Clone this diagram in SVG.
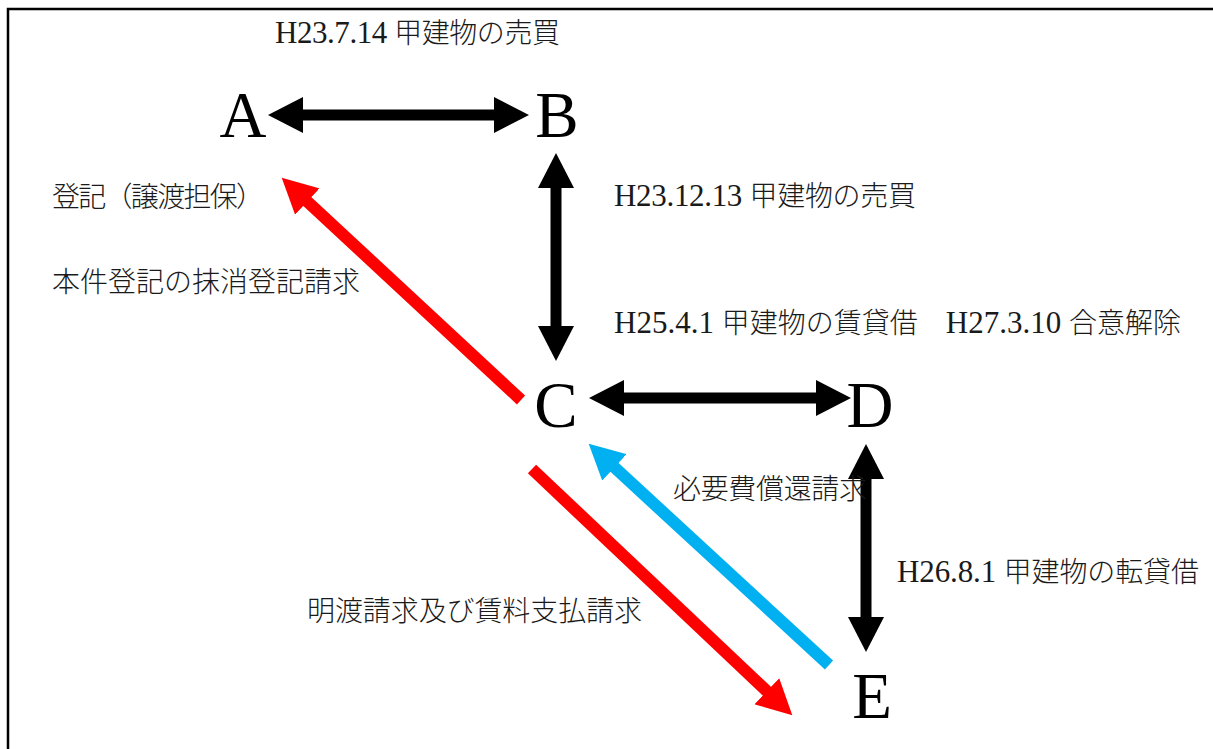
<svg xmlns="http://www.w3.org/2000/svg" width="1213" height="749" viewBox="0 0 1213 749">
<style>
.lbl{font-family:"Liberation Serif","Noto Sans CJK JP",serif;font-size:28px;font-weight:300;fill:#1a1a1a}
.lat{font-size:31px;font-weight:normal}
.node{font-family:"Liberation Serif","Times New Roman",serif;font-size:65px;fill:#000;text-anchor:middle}
.blk{stroke:#000;stroke-width:11;fill:none}
.red{stroke:#ff0000;stroke-width:12;fill:none}
.blu{stroke:#00b0f0;stroke-width:12;fill:none}
</style>
<defs>
<marker id="hb" markerUnits="userSpaceOnUse" viewBox="0 -18 36 36" markerWidth="36" markerHeight="36" refX="1" refY="0" orient="auto-start-reverse"><path d="M0,-18 L35,0 L0,18 z" fill="#000"/></marker>
<marker id="hr" markerUnits="userSpaceOnUse" viewBox="0 -18 36 36" markerWidth="36" markerHeight="36" refX="1" refY="0" orient="auto"><path d="M0,-18 L35,0 L0,18 z" fill="#ff0000"/></marker>
<marker id="hc" markerUnits="userSpaceOnUse" viewBox="0 -18 36 36" markerWidth="36" markerHeight="36" refX="1" refY="0" orient="auto"><path d="M0,-18 L35,0 L0,18 z" fill="#00b0f0"/></marker>
</defs>
<rect width="1213" height="749" fill="#fff"/>
<path d="M8,760 V9 H1220" fill="none" stroke="#000" stroke-width="2.5"/>
<g id="connectors">
<line class="blk" x1="302" y1="115" x2="495" y2="115" marker-start="url(#hb)" marker-end="url(#hb)"/>
<line class="blk" x1="556" y1="187" x2="556" y2="327" marker-start="url(#hb)" marker-end="url(#hb)"/>
<line class="blk" x1="623" y1="398" x2="817" y2="398" marker-start="url(#hb)" marker-end="url(#hb)"/>
<line class="blk" x1="866" y1="478" x2="866" y2="618" marker-start="url(#hb)" marker-end="url(#hb)"/>
<line class="red" x1="521" y1="400" x2="306.6" y2="200.8" marker-end="url(#hr)"/>
<line class="red" x1="532" y1="469" x2="767.6" y2="691.9" marker-end="url(#hr)"/>
<line class="blu" x1="829" y1="665" x2="613.7" y2="466.7" marker-end="url(#hc)"/>
</g>
<g id="node-A"><text class="node" x="243" y="137">A</text></g>
<g id="node-B"><text class="node" x="557" y="137">B</text></g>
<g id="node-C"><text class="node" x="556" y="427">C</text></g>
<g id="node-D"><text class="node" x="870" y="427">D</text></g>
<g id="node-E"><text class="node" x="872" y="718">E</text></g>
<g id="labels">
<text class="lbl" x="275" y="43" textLength="285" lengthAdjust="spacing"><tspan class="lat">H23.7.14 </tspan>甲建物の売買</text>
<text class="lbl" x="52" y="207" textLength="212" lengthAdjust="spacing">登記（譲渡担保）</text>
<text class="lbl" x="52" y="292" textLength="308" lengthAdjust="spacing">本件登記の抹消登記請求</text>
<text class="lbl" x="614" y="206" textLength="302" lengthAdjust="spacing"><tspan class="lat">H23.12.13 </tspan>甲建物の売買</text>
<text class="lbl" x="614" y="333" textLength="567" lengthAdjust="spacing"><tspan class="lat">H25.4.1 </tspan>甲建物の賃貸借　<tspan class="lat">H27.3.10 </tspan>合意解除</text>
<text class="lbl" x="673" y="499" textLength="194" lengthAdjust="spacing">必要費償還請求</text>
<text class="lbl" x="897" y="582" textLength="302" lengthAdjust="spacing"><tspan class="lat">H26.8.1 </tspan>甲建物の転貸借</text>
<text class="lbl" x="307" y="621" textLength="335" lengthAdjust="spacing">明渡請求及び賃料支払請求</text>
</g>
</svg>
